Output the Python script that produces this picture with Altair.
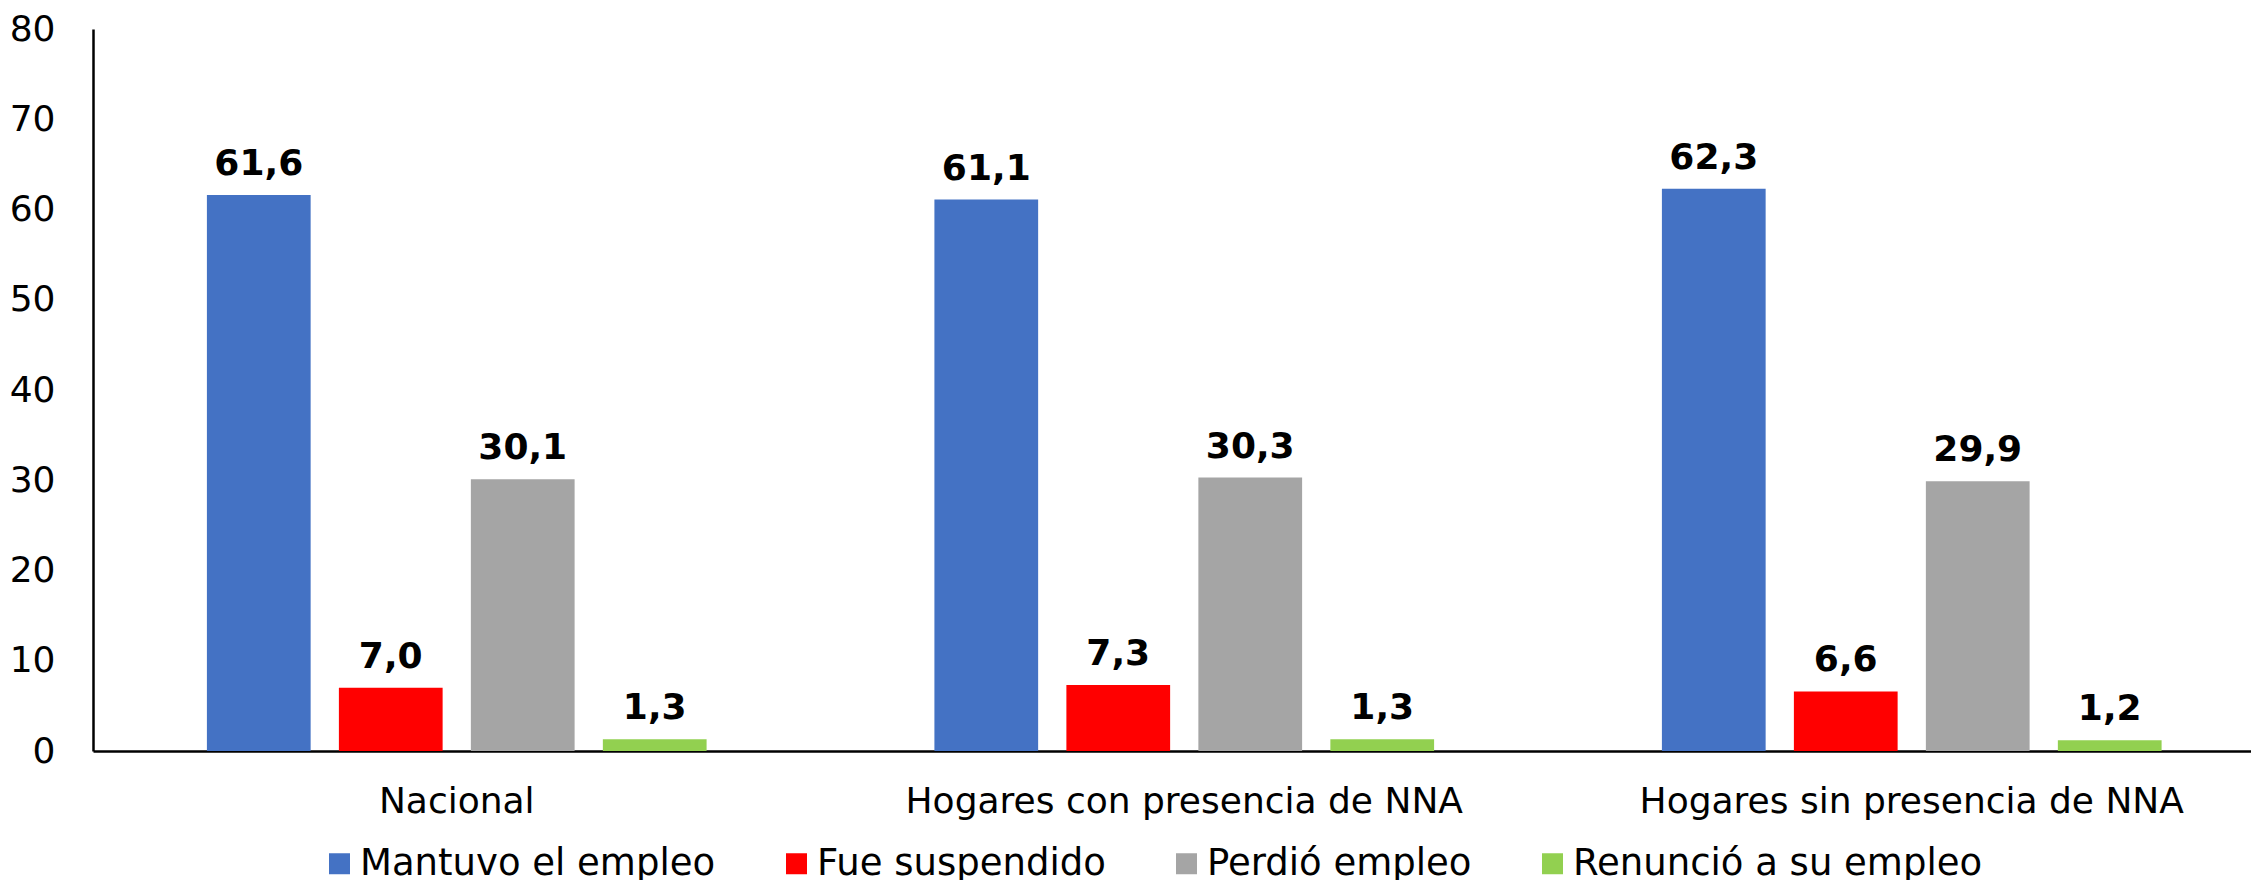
import altair as alt
import pandas as pd

categories = ["Nacional", "Hogares con presencia de NNA", "Hogares sin presencia de NNA"]
series = ["Mantuvo el empleo", "Fue suspendido", "Perdió empleo", "Renunció a su empleo"]
colors = ["#4472C4", "#FF0000", "#A5A5A5", "#92D050"]
values = {
    "Mantuvo el empleo": [61.6, 61.1, 62.3],
    "Fue suspendido": [7.0, 7.3, 6.6],
    "Perdió empleo": [30.1, 30.3, 29.9],
    "Renunció a su empleo": [1.3, 1.3, 1.2],
}
y_ticks = [0, 10, 20, 30, 40, 50, 60, 70, 80]

rows = []
for s in series:
    for c, v in zip(categories, values[s]):
        rows.append({"cat": c, "serie": s, "v": v})
df = pd.DataFrame(rows)

FONT = "DejaVu Sans"

x_enc = alt.X("cat:N", sort=categories,
              scale=alt.Scale(paddingInner=0, paddingOuter=0, range=[0, 2182.5]),
              axis=alt.Axis(title=None, labelAngle=0, ticks=False, labelFontSize=36,
                            labelFont=FONT, labelColor="#000000", labelPadding=33,
                            labelLimit=1000,
                            domainColor="#000000", domainWidth=2.5))
xo_enc = alt.XOffset("serie:N", sort=series,
                     scale=alt.Scale(paddingInner=0.214, paddingOuter=0.863))
y_enc = alt.Y("v:Q", scale=alt.Scale(domain=[0, 80]),
              axis=alt.Axis(title=None, values=y_ticks, ticks=False, grid=False,
                            labelFontSize=36, labelFont=FONT, labelColor="#000000",
                            labelPadding=38, domainColor="#000000", domainWidth=2.5))

base = alt.Chart(df)

bars = base.mark_bar().encode(
    x=x_enc,
    xOffset=xo_enc,
    y=y_enc,
    color=alt.Color("serie:N", sort=series,
                    scale=alt.Scale(domain=series, range=colors),
                    legend=alt.Legend(title=None, orient="none", direction="horizontal",
                                      legendX=228, legendY=816,
                                      symbolType="square", symbolSize=441,
                                      symbolStrokeWidth=0, labelFontSize=37,
                                      labelFont=FONT, labelColor="#000000",
                                      labelOffset=2, columnPadding=62, padding=0,
                                      labelLimit=1000)),
)

labels = base.transform_calculate(
    lab="replace(format(datum.v, '.1f'), '.', ',')"
).mark_text(font=FONT, fontSize=36, fontWeight="bold", color="#000000",
            baseline="alphabetic", dy=-20).encode(
    x=alt.X("cat:N", sort=categories),
    xOffset=alt.XOffset("serie:N", sort=series),
    y="v:Q",
    text="lab:N",
)

chart = (bars + labels).properties(
    width=2158, height=722, background="white",
    autosize=alt.AutoSizeParams(type="none"),
    padding={"left": 85, "top": 21, "right": 0, "bottom": 129},
).configure_view(stroke=None)

chart.save("out.html", embed_options={"renderer": "svg", "actions": False})
